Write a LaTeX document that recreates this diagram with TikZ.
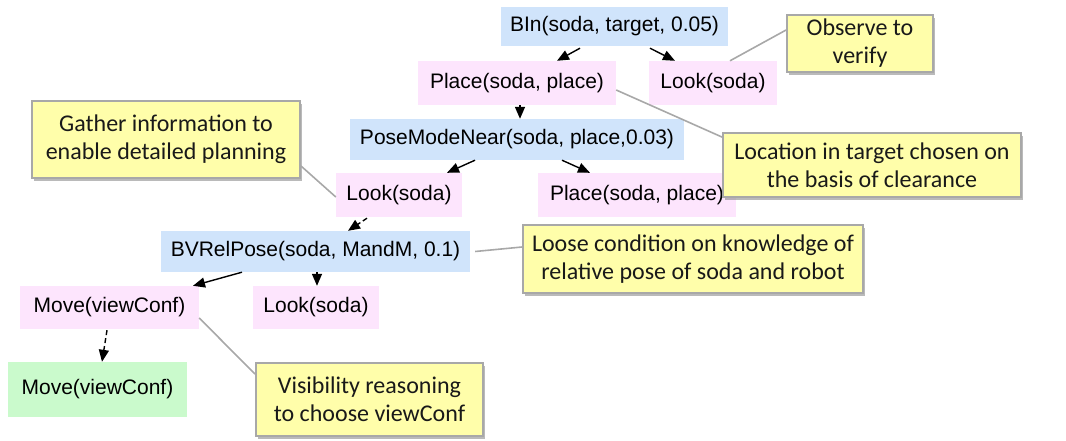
\documentclass[tikz,border=0pt]{standalone}
\usepackage{fontspec}
\setmainfont{Liberation Sans}
\newfontfamily\notefont{Carlito}
\usetikzlibrary{arrows.meta,shadows}
\definecolor{goalblue}{RGB}{208,228,251}
\definecolor{actpink}{RGB}{253,229,253}
\definecolor{primgreen}{RGB}{202,250,204}
\definecolor{noteyellow}{RGB}{255,254,170}
\definecolor{notegray}{RGB}{168,168,168}
\begin{document}
\begin{tikzpicture}[x=1pt,y=-1pt,
  box/.style={inner sep=0pt,font=\fontsize{21}{25}\selectfont,text=black},
  goal/.style={box,fill=goalblue},
  act/.style={box,fill=actpink},
  prim/.style={box,fill=primgreen},
  note/.style={inner sep=0pt,fill=noteyellow,draw=notegray,line width=1.8pt,
    align=center,font=\notefont\fontsize{24}{28}\selectfont,text=black!90,
    drop shadow={shadow xshift=2pt,shadow yshift=-3pt,fill=black!45,opacity=0.6}},
  arr/.style={line width=1.4pt,-{Triangle[length=12pt,width=10pt]}},
  darr/.style={arr,dash pattern=on 5pt off 3pt},
  lead/.style={draw=notegray,line width=1.6pt}]
\useasboundingbox (0,0) rectangle (1066,441);

% plan tree
\node[goal,minimum width=227,minimum height=39] (bin)  at (614.5,26.5) {BIn(soda, target, 0.05)};
\node[act, minimum width=198,minimum height=44] (ptop) at (517,83)    {Place(soda, place)};
\node[act, minimum width=128,minimum height=44] (ltop) at (713,83)    {Look(soda)};
\node[goal,minimum width=334,minimum height=41] (pmn)  at (517,139.5) {PoseModeNear(soda, place,0.03)};
\node[act, minimum width=126,minimum height=44] (lmid) at (399,195)   {Look(soda)};
\node[act, minimum width=198,minimum height=44] (pmid) at (637,195)   {Place(soda, place)};
\node[goal,minimum width=309,minimum height=41] (bvr)  at (315.5,251.5) {BVRelPose(soda, MandM, 0.1)};
\node[act, minimum width=179,minimum height=43] (mvp)  at (109.5,307.5) {Move(viewConf)};
\node[act, minimum width=126,minimum height=43] (lbot) at (316,307.5) {Look(soda)};
\node[prim,minimum width=179,minimum height=55] (mvg)  at (97.5,389.5) {Move(viewConf)};

% annotations
\node[note,minimum width=146,minimum height=57] (obs) at (860,43.5) {Observe to\\verify};
\node[note,minimum width=298,minimum height=64] (loc) at (872,165) {Location in target chosen on\\the basis of clearance};
\node[note,minimum width=268,minimum height=77] (gat) at (166,139.5) {Gather information to\\enable detailed planning};
\node[note,minimum width=340,minimum height=68] (loo) at (693,259) {Loose condition on knowledge of\\relative pose of soda and robot};
\node[note,minimum width=227,minimum height=73] (vis) at (369.5,399.5) {Visibility reasoning\\to choose viewConf};

% expansion edges
\draw[arr]  ([xshift=-34.5pt,yshift=-2pt]bin.south) -- ([xshift=40pt]ptop.north);
\draw[arr]  ([xshift=35.5pt,yshift=-2pt]bin.south)  -- ([xshift=-38pt]ltop.north);
\draw[arr]  ([xshift=3pt]ptop.south) -- ([xshift=3pt]pmn.north);
\draw[arr]  ([xshift=-42pt]pmn.south) -- ([xshift=48pt]lmid.north);
\draw[arr]  ([xshift=45pt]pmn.south)  -- ([xshift=-47pt]pmid.north);
\draw[darr] ([xshift=-32pt,yshift=-1pt]lmid.south) -- ([xshift=32.5pt]bvr.north);
\draw[arr]  ([xshift=-73.5pt]bvr.south) -- ([xshift=83.5pt]mvp.north);
\draw[arr]  ([xshift=1.5pt]bvr.south) -- ([xshift=1pt]lbot.north);
\draw[darr] ([xshift=-2.5pt,yshift=-1pt]mvp.south) -- ([xshift=4.5pt]mvg.north);

% annotation leaders
\draw[lead] ([xshift=17pt]ltop.north) -- ([yshift=13.5pt]obs.west);
\draw[lead] ([yshift=-7pt]ptop.east) -- ([yshift=-5pt]loc.north west);
\draw[lead] ([yshift=13pt]gat.south east) -- ([yshift=-2pt]lmid.west);
\draw[lead] ([xshift=5pt]bvr.east) -- ([yshift=12pt]loo.west);
\draw[lead] ([yshift=-10.5pt]mvp.east) -- ([yshift=-12pt]vis.north west);
\end{tikzpicture}
\end{document}
